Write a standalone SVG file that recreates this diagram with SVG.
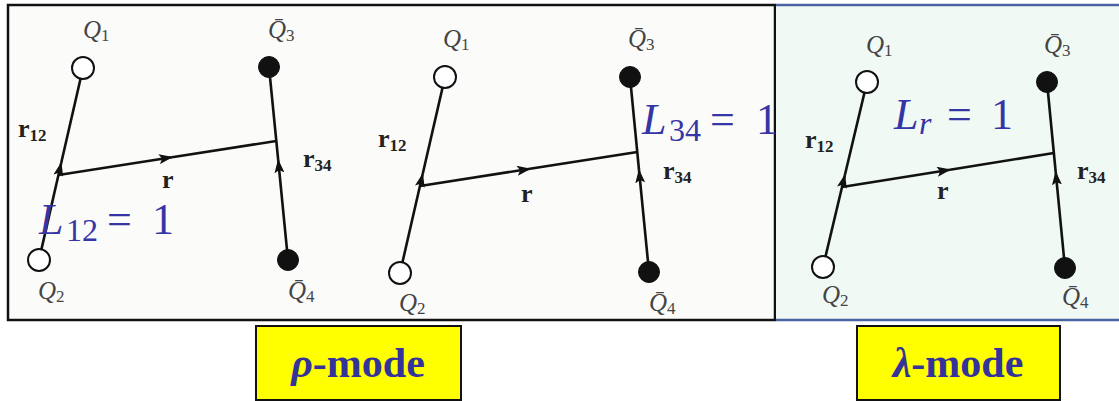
<svg xmlns="http://www.w3.org/2000/svg" width="1119" height="401" viewBox="0 0 1119 401">
<style>
.ln{stroke:#111;stroke-width:2.6;fill:none}
.ar{stroke:#111;stroke-width:2.6;fill:none;marker-end:url(#ah)}
.oc{fill:#fff;stroke:#111;stroke-width:2}
.fc{fill:#111;stroke:#111;stroke-width:1}
.q{font-family:"Liberation Serif",serif;font-style:italic;font-size:25px;fill:#444}
.qs{font-style:normal;font-size:17px}
.rl{font-family:"Liberation Serif",serif;font-weight:bold;font-size:26px;fill:#222}
.rs{font-size:17px}
.L{font-family:"Liberation Serif",serif;font-size:44px;fill:#3535a5}
.Li{font-style:italic}
.Ls{font-size:32px}
.mode{font-family:"Liberation Serif",serif;font-weight:bold;font-size:42px;fill:#333399}
.box{fill:#ffff00;stroke:#111;stroke-width:2}
</style>
<defs>
<marker id="ah" viewBox="0 0 14 10" refX="13" refY="5" markerWidth="14" markerHeight="10" markerUnits="userSpaceOnUse" orient="auto">
<path d="M0,0 L14,5 L0,10 L3,5 z" fill="#111"/>
</marker>
</defs>
<rect x="0" y="0" width="1119" height="401" fill="#fff"/>
<g id="panel-rho">
<rect x="8" y="5" width="767" height="315" fill="#fbfcf9" stroke="#111" stroke-width="2.5"/>
</g>
<g id="panel-lambda">
<rect x="776" y="5" width="345" height="315" fill="#f1f9f4"/>
<line x1="776" y1="5" x2="1119" y2="5" stroke="#4a63a3" stroke-width="2.5"/>
<line x1="776" y1="320" x2="1119" y2="320" stroke="#4a63a3" stroke-width="2.5"/>
</g>
<g id="connectors">
<line class="ar" x1="39" y1="260" x2="61.2" y2="163"/>
<line class="ln" x1="61.2" y1="163" x2="83" y2="68"/>
<line class="ar" x1="58.5" y1="175" x2="172" y2="157.2"/>
<line class="ln" x1="172" y1="157.2" x2="276.3" y2="141"/>
<line class="ar" x1="288" y1="260" x2="278.2" y2="160"/>
<line class="ln" x1="278.2" y1="160" x2="269" y2="67"/>
<line class="ar" x1="400" y1="273" x2="422.7" y2="174"/>
<line class="ln" x1="422.7" y1="174" x2="445" y2="77"/>
<line class="ar" x1="420" y1="186" x2="530" y2="168.8"/>
<line class="ln" x1="530" y1="168.8" x2="637.3" y2="152"/>
<line class="ar" x1="649" y1="272" x2="639" y2="170"/>
<line class="ln" x1="639" y1="170" x2="630" y2="77"/>
<line class="ar" x1="823" y1="267" x2="844.9" y2="175"/>
<line class="ln" x1="844.9" y1="175" x2="867" y2="82"/>
<line class="ar" x1="842" y1="187" x2="950" y2="169.7"/>
<line class="ln" x1="950" y1="169.7" x2="1053.9" y2="153"/>
<line class="ar" x1="1065" y1="268" x2="1055.7" y2="172"/>
<line class="ln" x1="1055.7" y1="172" x2="1047" y2="82"/>
</g>
<g id="p1-Q1"><circle class="oc" cx="83" cy="68" r="11"/><text class="q" x="83" y="38">Q<tspan class="qs" dy="3">1</tspan></text></g>
<g id="p1-Q2"><circle class="oc" cx="39" cy="260" r="11"/><text class="q" x="38" y="299">Q<tspan class="qs" dy="3">2</tspan></text></g>
<g id="p1-Q3"><circle class="fc" cx="269" cy="67" r="10.5"/><text class="q" x="268" y="38">Q̄<tspan class="qs" dy="3">3</tspan></text></g>
<g id="p1-Q4"><circle class="fc" cx="288" cy="260" r="10.5"/><text class="q" x="288" y="299">Q̄<tspan class="qs" dy="3">4</tspan></text></g>
<g id="p1-labels">
<text class="rl" x="18" y="137">r<tspan class="rs" dy="4">12</tspan></text>
<text class="rl" x="303" y="167">r<tspan class="rs" dy="4">34</tspan></text>
<text class="rl" x="162" y="188">r</text>
<text class="L" y="234"><tspan class="Li" x="39">L</tspan><tspan class="Ls" x="66" dy="7">12</tspan><tspan x="107" dy="-7">=</tspan><tspan x="152">1</tspan></text>
</g>
<g id="p2-Q1"><circle class="oc" cx="445" cy="77" r="11"/><text class="q" x="443" y="47">Q<tspan class="qs" dy="3">1</tspan></text></g>
<g id="p2-Q2"><circle class="oc" cx="400" cy="273" r="11"/><text class="q" x="399" y="311">Q<tspan class="qs" dy="3">2</tspan></text></g>
<g id="p2-Q3"><circle class="fc" cx="630" cy="77" r="10.5"/><text class="q" x="628" y="47">Q̄<tspan class="qs" dy="3">3</tspan></text></g>
<g id="p2-Q4"><circle class="fc" cx="649" cy="272" r="10.5"/><text class="q" x="649" y="311">Q̄<tspan class="qs" dy="3">4</tspan></text></g>
<g id="p2-labels">
<text class="rl" x="378" y="147">r<tspan class="rs" dy="4">12</tspan></text>
<text class="rl" x="663" y="179">r<tspan class="rs" dy="4">34</tspan></text>
<text class="rl" x="521" y="202">r</text>
<text class="L" y="134"><tspan class="Li" x="642">L</tspan><tspan class="Ls" x="669" dy="7">34</tspan><tspan x="710" dy="-7">=</tspan><tspan x="756">1</tspan></text>
</g>
<g id="p3-Q1"><circle class="oc" cx="867" cy="82" r="11"/><text class="q" x="866" y="53">Q<tspan class="qs" dy="3">1</tspan></text></g>
<g id="p3-Q2"><circle class="oc" cx="823" cy="267" r="11"/><text class="q" x="822" y="303">Q<tspan class="qs" dy="3">2</tspan></text></g>
<g id="p3-Q3"><circle class="fc" cx="1047" cy="82" r="10.5"/><text class="q" x="1044" y="53">Q̄<tspan class="qs" dy="3">3</tspan></text></g>
<g id="p3-Q4"><circle class="fc" cx="1065" cy="268" r="10.5"/><text class="q" x="1062" y="305">Q̄<tspan class="qs" dy="3">4</tspan></text></g>
<g id="p3-labels">
<text class="rl" x="805" y="148">r<tspan class="rs" dy="4">12</tspan></text>
<text class="rl" x="1077" y="179">r<tspan class="rs" dy="4">34</tspan></text>
<text class="rl" x="937" y="199">r</text>
<text class="L" y="129"><tspan class="Li" x="894">L</tspan><tspan class="Ls Li" x="919" dy="5">r</tspan><tspan x="947" dy="-5">=</tspan><tspan x="991">1</tspan></text>
</g>
<g id="rho-mode">
<rect class="box" x="256" y="326" width="205" height="74"/>
<text class="mode" x="358" y="377" text-anchor="middle"><tspan font-style="italic">ρ</tspan>-mode</text>
</g>
<g id="lambda-mode">
<rect class="box" x="857" y="326" width="203" height="74"/>
<text class="mode" x="958" y="377" text-anchor="middle"><tspan font-style="italic">λ</tspan>-mode</text>
</g>
</svg>
